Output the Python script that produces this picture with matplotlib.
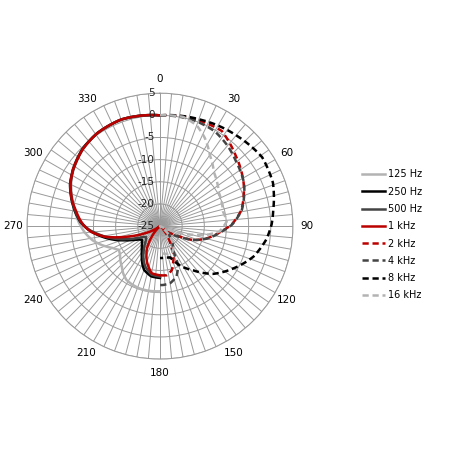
import numpy as np
import matplotlib
matplotlib.use('Agg')
import matplotlib.pyplot as plt

# polar response, dB vs angle (deg, clockwise from top)
# low frequencies drawn on the left half, high frequencies on the right half
ang_125 = [180, 190, 198, 205, 212, 218, 223, 230, 235, 240, 245, 252, 258, 265, 273, 281, 290, 303, 315, 326, 340, 350, 360]
db_125 = [-10.3, -10.2, -10.2, -10.4, -10.7, -11.5, -12.4, -13.3, -14.0, -14.3, -13.3, -11.2, -9.5, -8.0, -6.6, -5.4, -3.8, -1.5, -0.3, 0.3, 0.5, 0.3, 0.0]

ang_250 = [180, 190, 200, 205, 210, 215, 220, 226, 232, 237, 242, 247, 252, 257, 262, 267, 273, 279, 286, 295, 303, 315, 326, 340, 350, 360]
db_250 = [-13.3, -13.5, -14.5, -15.6, -16.8, -17.9, -18.7, -19.4, -19.9, -19.5, -18.4, -16.8, -14.8, -12.8, -10.8, -8.9, -7.0, -5.7, -4.3, -2.6, -1.6, -0.3, 0.3, 0.6, 0.3, 0.0]

ang_500 = [180, 190, 200, 205, 210, 215, 220, 226, 232, 237, 242, 247, 252, 257, 262, 267, 273, 279, 286, 295, 303, 315, 326, 340, 350, 360]
db_500 = [-13.6, -13.9, -15.3, -16.3, -17.5, -18.7, -19.7, -20.7, -21.0, -20.5, -19.3, -17.6, -15.5, -13.3, -11.2, -9.0, -7.1, -5.8, -4.4, -2.7, -1.7, -0.4, 0.3, 0.6, 0.3, 0.0]

ang_1k = [180, 190, 200, 210, 218, 226, 232, 238, 244, 250, 254, 259, 265, 270, 275, 281, 286, 295, 303, 315, 326, 340, 350, 360]
db_1k = [-13.9, -14.2, -16.4, -19.1, -22.0, -24.5, -25.0, -23.5, -21.5, -18.5, -16.0, -12.4, -9.5, -7.9, -6.8, -5.6, -4.4, -2.7, -1.6, -0.4, 0.3, 0.6, 0.3, 0.0]

ang_2k = [0, 18, 33, 46, 63, 79, 89, 94, 105, 113, 118, 121, 126, 132, 138, 143, 148, 155, 165, 172, 180]
db_2k = [0.0, 0.4, 0.6, -1.5, -3.8, -6.3, -8.9, -10.8, -14.2, -17.0, -19.9, -21.0, -23.0, -25.0, -23.5, -22.0, -20.8, -17.8, -14.7, -13.8, -13.9]

ang_4k = [0, 17, 30, 40, 49, 63, 79, 89, 94, 105, 113, 118, 122, 128, 135, 145, 152, 155, 162, 170, 177, 180]
db_4k = [0.0, 0.1, -0.3, -1.3, -2.4, -3.7, -6.2, -8.8, -10.7, -14.1, -17.0, -19.8, -21.0, -22.5, -22.0, -20.0, -18.5, -15.3, -13.0, -11.9, -11.7, -11.7]

ang_8k = [0, 10, 21, 41, 56, 69, 82, 89, 97, 108, 120, 132, 143, 151, 157, 162, 170, 180]
db_8k = [0.0, 0.3, 0.7, 1.8, 2.8, 2.3, 0.8, 0.2, -0.8, -2.8, -5.9, -8.9, -12.5, -14.5, -16.2, -17.6, -17.8, -17.8]

ang_16k = [0, 12, 20, 27, 35, 45, 60, 77, 86, 95, 100, 105, 110, 115, 125, 135, 145, 155, 165, 180]
db_16k = [0.0, 0.2, -0.8, -2.7, -5.4, -7.8, -9.7, -10.4, -9.9, -11.5, -14.0, -17.5, -21.0, -25.0, -25.0, -22.0, -19.5, -18.5, -18.5, -19.0]

series = [
    ('125 Hz', ang_125, db_125, '#b3b3b3', '-'),
    ('250 Hz', ang_250, db_250, '#000000', '-'),
    ('500 Hz', ang_500, db_500, '#444444', '-'),
    ('1 kHz', ang_1k, db_1k, '#bb0000', '-'),
    ('2 kHz', ang_2k, db_2k, '#bb0000', (0, (2.5, 1.5))),
    ('4 kHz', ang_4k, db_4k, '#444444', (0, (2.5, 1.5))),
    ('8 kHz', ang_8k, db_8k, '#000000', (0, (2.5, 1.5))),
    ('16 kHz', ang_16k, db_16k, '#b3b3b3', (0, (2.5, 1.5))),
]

r_ticks = [5, 0, -5, -10, -15, -20, -25]

fig = plt.figure(figsize=(4.5, 4.5), dpi=100)
ax = fig.add_axes([0.06, 0.202, 0.591, 0.591], projection='polar')
ax.set_theta_zero_location('N')
ax.set_theta_direction(-1)
ax.set_ylim(-25, 5)

deg = np.arange(0, 360, 5)
ax.set_thetagrids(deg, labels=[str(d) if d % 30 == 0 else '' for d in deg], fontsize=7.5)
ax.set_rgrids([-20, -15, -10, -5, 0, 5], labels=[])
ax.grid(color='#9a9a9a', linewidth=0.7)
ax.spines['polar'].set_color('#9a9a9a')
ax.spines['polar'].set_linewidth(0.7)
ax.tick_params(axis='x', pad=3, length=0)

for v in r_ticks:
    ax.annotate(str(v), xy=(0, v), xytext=(-4, 0), textcoords='offset points',
                ha='right', va='center', fontsize=7.5, color='#222222')

for name, a, d, c, ls in series:
    ln, = ax.plot(np.radians(a), np.clip(d, -25, 5), color=c, linestyle=ls,
                  linewidth=1.8, label=name)
    # let the polar transform bend each segment along theta
    ln.get_path()._interpolation_steps = 40

fig.legend(loc='center left', bbox_to_anchor=(0.784, 0.478), frameon=False, fontsize=7,
           handlelength=2.4, handletextpad=0.3, labelspacing=0.75)

fig.savefig('out.png', dpi=100)
